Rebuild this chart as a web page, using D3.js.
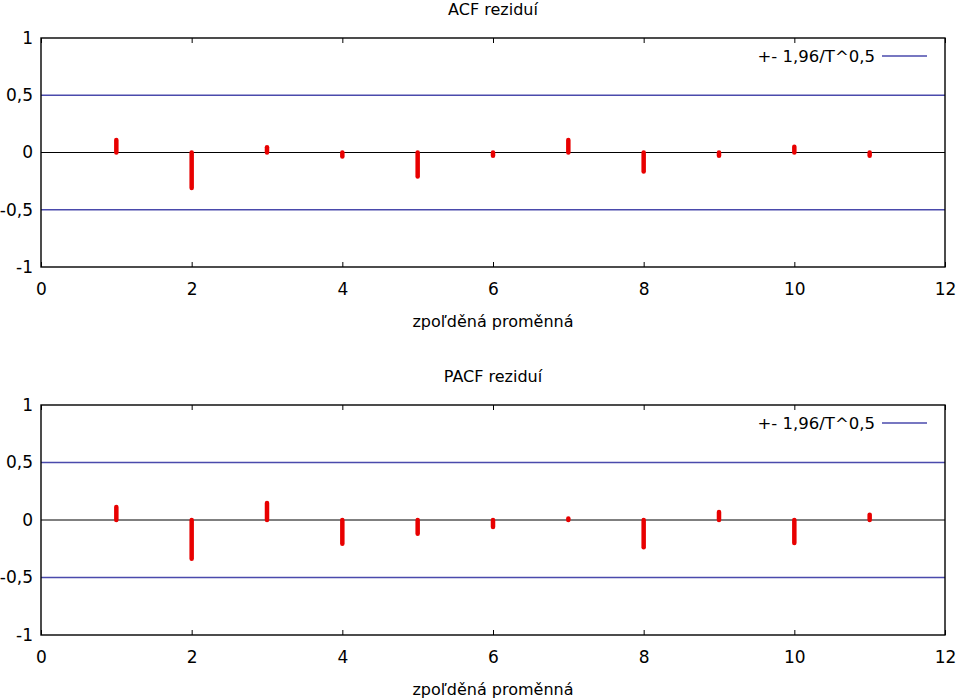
<!DOCTYPE html>
<html>
<head>
<meta charset="utf-8">
<script src="https://cdn.jsdelivr.net/npm/d3@7"></script>
<style>
  body { margin: 0; background: #fff; }
  svg { display: block; font-family: "DejaVu Sans", Verdana, sans-serif; }
</style>
</head>
<body>
<svg id="chart" width="960" height="699"></svg>
<script>
const lags = [1, 2, 3, 4, 5, 6, 7, 8, 9, 10, 11];
const acfValues = [0.11, -0.31, 0.046, -0.035, -0.21, -0.028, 0.11, -0.166, -0.028, 0.05, -0.028];
const pacfValues = [0.113, -0.336, 0.148, -0.206, -0.12, -0.06, 0.012, -0.237, 0.07, -0.2, 0.046];
const bandValue = 0.5;
const xTicks = [0, 2, 4, 6, 8, 10, 12];
const yTicks = [-1, -0.5, 0, 0.5, 1];
const panels = [
  { title: "ACF reziduí", values: acfValues, top: 38, bottom: 267 },
  { title: "PACF reziduí", values: pacfValues, top: 405, bottom: 635 }
];
const xLabel = "zpoľděná proměnná";
const legendLabel = "+- 1,96/T^0,5";

const svg = d3.select("#chart");
const left = 41, right = 945;
const fmt = v => String(v).replace(".", ",");
const blue = "#4a4aac";

panels.forEach(p => {
  const x = d3.scaleLinear().domain([0, 12]).range([left, right]);
  const y = d3.scaleLinear().domain([-1, 1]).range([p.bottom, p.top]);
  const g = svg.append("g");

  // title
  g.append("text").attr("x", (left + right) / 2).attr("y", p.top - 23)
    .attr("text-anchor", "middle").attr("font-size", 16).text(p.title);

  // band lines
  [bandValue, -bandValue].forEach(b => {
    g.append("line").attr("x1", left).attr("x2", right)
      .attr("y1", y(b)).attr("y2", y(b))
      .attr("stroke", blue).attr("stroke-width", 1.5);
  });
  // zero line
  g.append("line").attr("x1", left).attr("x2", right)
    .attr("y1", y(0)).attr("y2", y(0))
    .attr("stroke", "#000").attr("stroke-width", 1);

  // impulses
  g.selectAll("line.imp").data(lags).enter().append("line")
    .attr("class", "imp")
    .attr("x1", d => x(d)).attr("x2", d => x(d))
    .attr("y1", y(0)).attr("y2", (d, i) => y(p.values[i]))
    .attr("stroke", "#e80000").attr("stroke-width", 4.5)
    .attr("stroke-linecap", "round");

  // axes: bottom and top with inward ticks
  const xb = d3.axisBottom(x).tickValues(xTicks).tickSize(-5).tickPadding(16).tickFormat(fmt);
  const xt = d3.axisTop(x).tickValues(xTicks).tickSize(-5).tickFormat("");
  const gb = g.append("g").attr("transform", `translate(0,${p.bottom})`).call(xb);
  const gt = g.append("g").attr("transform", `translate(0,${p.top})`).call(xt);
  const yl = d3.axisLeft(y).tickValues(yTicks).tickSize(0).tickPadding(8).tickFormat(fmt);
  const gl = g.append("g").attr("transform", `translate(${left},0)`).call(yl);
  [gb, gt, gl].forEach(a => {
    a.select(".domain").remove();
    a.selectAll("line").attr("stroke", "#000");
    a.selectAll("text").attr("font-size", 17).attr("fill", "#000")
      .attr("font-family", "DejaVu Sans, Verdana, sans-serif");
  });

  // frame
  g.append("rect").attr("x", left).attr("y", p.top)
    .attr("width", right - left).attr("height", p.bottom - p.top)
    .attr("fill", "none").attr("stroke", "#000").attr("stroke-width", 1.4);

  // x label
  g.append("text").attr("x", (left + right) / 2).attr("y", p.bottom + 60)
    .attr("text-anchor", "middle").attr("font-size", 16).text(xLabel);

  // legend
  const ly = p.top + 18;
  g.append("text").attr("x", 875).attr("y", ly + 6)
    .attr("text-anchor", "end").attr("font-size", 16.5).text(legendLabel);
  g.append("line").attr("x1", 882).attr("x2", 927).attr("y1", ly).attr("y2", ly)
    .attr("stroke", blue).attr("stroke-width", 1.5);
});
</script>
</body>
</html>
